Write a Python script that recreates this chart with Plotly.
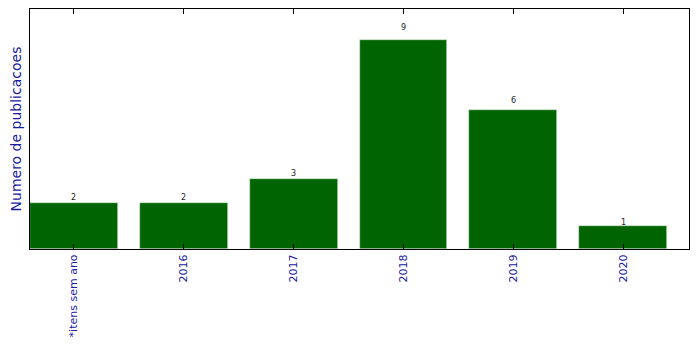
import plotly.graph_objects as go

categories = ["*itens sem ano", "2016", "2017", "2018", "2019", "2020"]
values = [2, 2, 3, 9, 6, 1]

x = list(range(len(categories)))

fig = go.Figure()
fig.add_trace(go.Bar(
    x=x, y=values, width=0.8,
    marker=dict(color="#006400", line=dict(color="#d8e8d8", width=0.6)),
    hoverinfo="skip",
))

annotations = [
    dict(x=i, y=v * 1.05, text=str(v), showarrow=False, xanchor="center", yanchor="bottom",
         font=dict(size=8, color="#222222", family="DejaVu Sans"), borderpad=0, yshift=-3)
    for i, v in zip(x, values)
]

fig.update_layout(
    width=699, height=349,
    margin=dict(l=30, r=10, t=9, b=100),
    plot_bgcolor="white", paper_bgcolor="white",
    showlegend=False,
    font=dict(family="DejaVu Sans"),
    annotations=annotations,
    bargap=0,
)
fig.update_xaxes(
    range=[-0.4, 5.6], tickmode="array", tickvals=x, ticktext=categories,
    tickangle=-90, tickfont=dict(size=11, color="#1a1aa0"),
    ticks="inside", ticklen=5, tickcolor="black", mirror="ticks",
    showline=True, linecolor="black", linewidth=1, showgrid=False, zeroline=False,
    automargin=False,
)
fig.update_yaxes(
    range=[0, 10.35], showticklabels=False, ticks="",
    showline=True, linecolor="black", linewidth=1, mirror=True, showgrid=False, zeroline=False,
    title=dict(text="Numero de publicacoes", font=dict(size=14, color="#1a1aa0"), standoff=4),
    automargin=False,
)

fig.write_html("out.html")
